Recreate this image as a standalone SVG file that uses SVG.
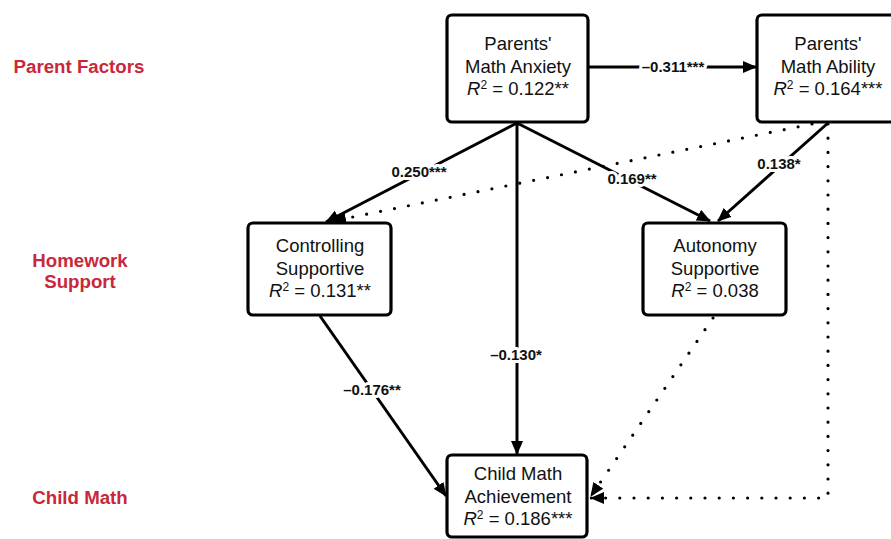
<svg xmlns="http://www.w3.org/2000/svg" width="891" height="539" viewBox="0 0 891 539">
<defs>
<marker id="ah" viewBox="0 0 14 12" refX="13" refY="6" markerWidth="14" markerHeight="12" markerUnits="userSpaceOnUse" orient="auto">
<path d="M0,0 L14,6 L0,12 z" fill="#000"/>
</marker>
</defs>
<style>
.box{fill:#fff;stroke:#000;stroke-width:3.2}
.nt{font-family:"Liberation Sans",Arial,sans-serif;font-size:18.5px;fill:#111;text-anchor:middle}
.sup{font-size:12px}
.solid{fill:none;stroke:#000;stroke-width:3;marker-end:url(#ah)}
.dot{fill:none;stroke:#000;stroke-width:3.2;stroke-dasharray:0 14.2;stroke-linecap:round;marker-end:url(#ah)}
.el{font-family:"Liberation Sans",Arial,sans-serif;font-size:15px;font-weight:bold;fill:#111;text-anchor:middle;stroke:#fff;stroke-width:6;paint-order:stroke;stroke-linejoin:round}
.sec{font-family:"Liberation Sans",Arial,sans-serif;font-size:18.7px;font-weight:bold;fill:#c8283a;text-anchor:middle}
</style>
<rect width="891" height="539" fill="#fff"/>
<g id="section-labels">
<text class="sec" x="79" y="73">Parent Factors</text>
<text class="sec" x="80" y="267">Homework</text>
<text class="sec" x="80" y="288">Support</text>
<text class="sec" x="80" y="504">Child Math</text>
</g>
<g id="connectors">
<path class="dot" d="M812,124 L333,221"/>
<path class="dot" d="M713,318 L591,496"/>
<path class="dot" d="M828,124 L828,498 L591,498"/>
<path class="solid" d="M589,67 L756,67"/>
<path class="solid" d="M517,123 L326,222"/>
<path class="solid" d="M517,123 L517,454"/>
<path class="solid" d="M517,123 L710,221"/>
<path class="solid" d="M828,123 L718,221"/>
<path class="solid" d="M320,316 L446,496"/>
<text class="el" x="673" y="72">–0.311***</text>
<text class="el" x="419" y="177">0.250***</text>
<text class="el" x="632" y="184">0.169**</text>
<text class="el" x="779" y="169">0.138*</text>
<text class="el" x="516" y="360">–0.130*</text>
<text class="el" x="372" y="395">–0.176**</text>
</g>
<g id="anxiety">
<rect class="box" x="447" y="15" width="141" height="107" rx="5"/>
<text class="nt" x="518" y="50">Parents'</text>
<text class="nt" x="518" y="73">Math Anxiety</text>
<text class="nt" x="518" y="95"><tspan font-style="italic">R</tspan><tspan class="sup" dy="-6">2</tspan><tspan dy="6"> = 0.122**</tspan></text>
</g>
<g id="ability">
<rect class="box" x="757" y="15" width="142" height="107" rx="5"/>
<text class="nt" x="828" y="50">Parents'</text>
<text class="nt" x="828" y="73">Math Ability</text>
<text class="nt" x="828" y="95"><tspan font-style="italic">R</tspan><tspan class="sup" dy="-6">2</tspan><tspan dy="6"> = 0.164***</tspan></text>
</g>
<g id="controlling">
<rect class="box" x="248" y="223" width="143" height="92" rx="5"/>
<text class="nt" x="320" y="252">Controlling</text>
<text class="nt" x="320" y="275">Supportive</text>
<text class="nt" x="320" y="297"><tspan font-style="italic">R</tspan><tspan class="sup" dy="-6">2</tspan><tspan dy="6"> = 0.131**</tspan></text>
</g>
<g id="autonomy">
<rect class="box" x="643" y="223" width="143" height="92" rx="5"/>
<text class="nt" x="715" y="252">Autonomy</text>
<text class="nt" x="715" y="275">Supportive</text>
<text class="nt" x="715" y="297"><tspan font-style="italic">R</tspan><tspan class="sup" dy="-6">2</tspan><tspan dy="6"> = 0.038</tspan></text>
</g>
<g id="achievement">
<rect class="box" x="447" y="455" width="140" height="82" rx="5"/>
<text class="nt" x="518" y="480">Child Math</text>
<text class="nt" x="518" y="503">Achievement</text>
<text class="nt" x="518" y="525"><tspan font-style="italic">R</tspan><tspan class="sup" dy="-6">2</tspan><tspan dy="6"> = 0.186***</tspan></text>
</g>
</svg>
